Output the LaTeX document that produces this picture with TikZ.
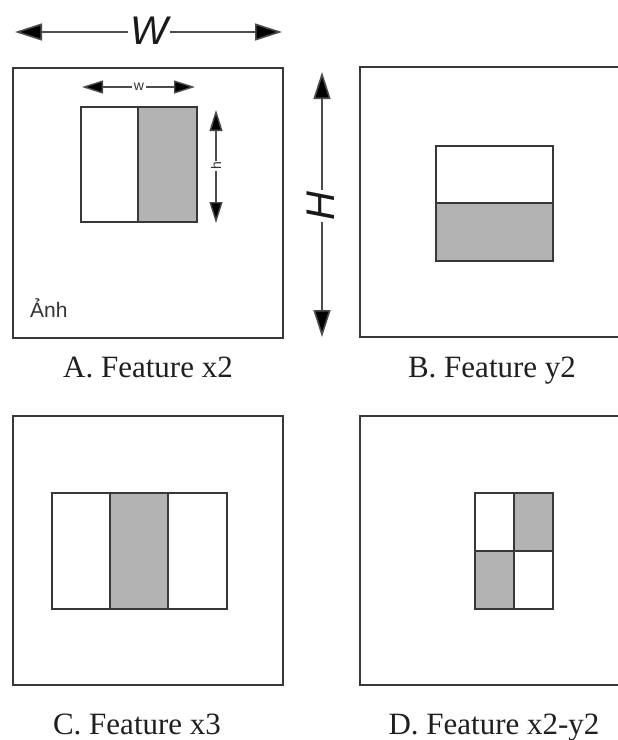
\documentclass[tikz,border=0pt]{standalone}
\usepackage{fontspec}
\setmainfont{Liberation Serif}
\setsansfont{Liberation Sans}
\usetikzlibrary{arrows.meta}
\definecolor{edge}{HTML}{383838}
\definecolor{shade}{HTML}{B3B3B3}
\tikzset{
  frame/.style={draw=edge, line width=2.2pt, fill=white, inner sep=0pt, outer sep=0pt, anchor=north west},
  cell/.style={draw=edge, line width=1.8pt, inner sep=0pt, outer sep=0pt, anchor=north west},
  lightcell/.style={cell, fill=white},
  darkcell/.style={cell, fill=shade},
  bigdim/.style={draw=black!70, line width=1.6pt,
    {Triangle[length=27pt,width=17pt,fill=black]}-{Triangle[length=27pt,width=17pt,fill=black]}},
  smalldim/.style={draw=black!70, line width=1.4pt,
    {Triangle[length=21pt,width=13pt,fill=black]}-{Triangle[length=21pt,width=13pt,fill=black]}},
  caption/.style={font=\fontsize{31}{36}\selectfont, anchor=base, text=black!88, inner sep=0pt},
  biglbl/.style={font=\sffamily\itshape\fontsize{40}{41}\selectfont, fill=white, inner sep=2pt, text=black!90},
  smalllbl/.style={font=\sffamily\fontsize{14}{15}\selectfont, fill=white, inner sep=1.5pt, text=black!80},
}
\begin{document}
\begin{tikzpicture}[x=1pt,y=-1pt]
  \useasboundingbox (0,0) rectangle (618,740);
  \clip (0,0) rectangle (618,740);
  \fill[white] (0,0) rectangle (618,740);

  % outer image frames
  \node[frame, minimum width=270pt, minimum height=270pt] (fA) at (13,68) {};
  \node[frame, minimum width=270pt, minimum height=270pt] (fB) at (360,67) {};
  \node[frame, minimum width=270pt, minimum height=269pt] (fC) at (13,416) {};
  \node[frame, minimum width=270pt, minimum height=269pt] (fD) at (360,416) {};

  % A: two vertical bands
  \node[lightcell, minimum width=57pt, minimum height=115pt] (a1) at (81,107) {};
  \node[darkcell,  minimum width=59pt, minimum height=115pt] (a2) at (a1.north east) {};

  % B: two horizontal bands
  \node[lightcell, minimum width=117pt, minimum height=57pt] (b1) at (436,146) {};
  \node[darkcell,  minimum width=117pt, minimum height=58pt] (b2) at (b1.south west) {};

  % C: three vertical bands
  \node[lightcell, minimum width=58pt, minimum height=116pt] (c1) at (52,493) {};
  \node[darkcell,  minimum width=58pt, minimum height=116pt] (c2) at (c1.north east) {};
  \node[lightcell, minimum width=59pt, minimum height=116pt] (c3) at (c2.north east) {};

  % D: checkerboard
  \node[lightcell, minimum width=39pt, minimum height=58pt] (d1) at (475,493) {};
  \node[darkcell,  minimum width=39pt, minimum height=58pt] (d2) at (d1.north east) {};
  \node[darkcell,  minimum width=39pt, minimum height=58pt] (d3) at (d1.south west) {};
  \node[lightcell, minimum width=39pt, minimum height=58pt] (d4) at (d3.north east) {};

  % dimension arrows
  \coordinate (WL) at (15,32);  \coordinate (WR) at (282,32);
  \draw[bigdim] (WL) -- (WR);
  \node[biglbl] (Wlab) at (149,31) {W};

  \coordinate (HT) at (322,72); \coordinate (HB) at (322,337);
  \draw[bigdim] (HT) -- (HB);
  \node[biglbl, rotate=90] (Hlab) at (321,206) {H};

  \coordinate (wl) at (82,87);  \coordinate (wr) at (195,87);
  \draw[smalldim] (wl) -- (wr);
  \node[smalllbl] (wlab) at (139,87) {w};

  \coordinate (ht) at (216,110); \coordinate (hb) at (216,223);
  \draw[smalldim] (ht) -- (hb);
  \node[smalllbl, rotate=90] (hlab) at (216,166) {h};

  % texts
  \node[font=\sffamily\fontsize{21}{23}\selectfont, text=black!80, anchor=base west, inner sep=0pt] (img) at (30,317) {Ảnh};
  \node[caption] (capA) at (148,377) {A. Feature x2};
  \node[caption] (capB) at (492,377) {B. Feature y2};
  \node[caption] (capC) at (137,734) {C. Feature x3};
  \node[caption] (capD) at (494,734) {D. Feature x2-y2};
\end{tikzpicture}
\end{document}
